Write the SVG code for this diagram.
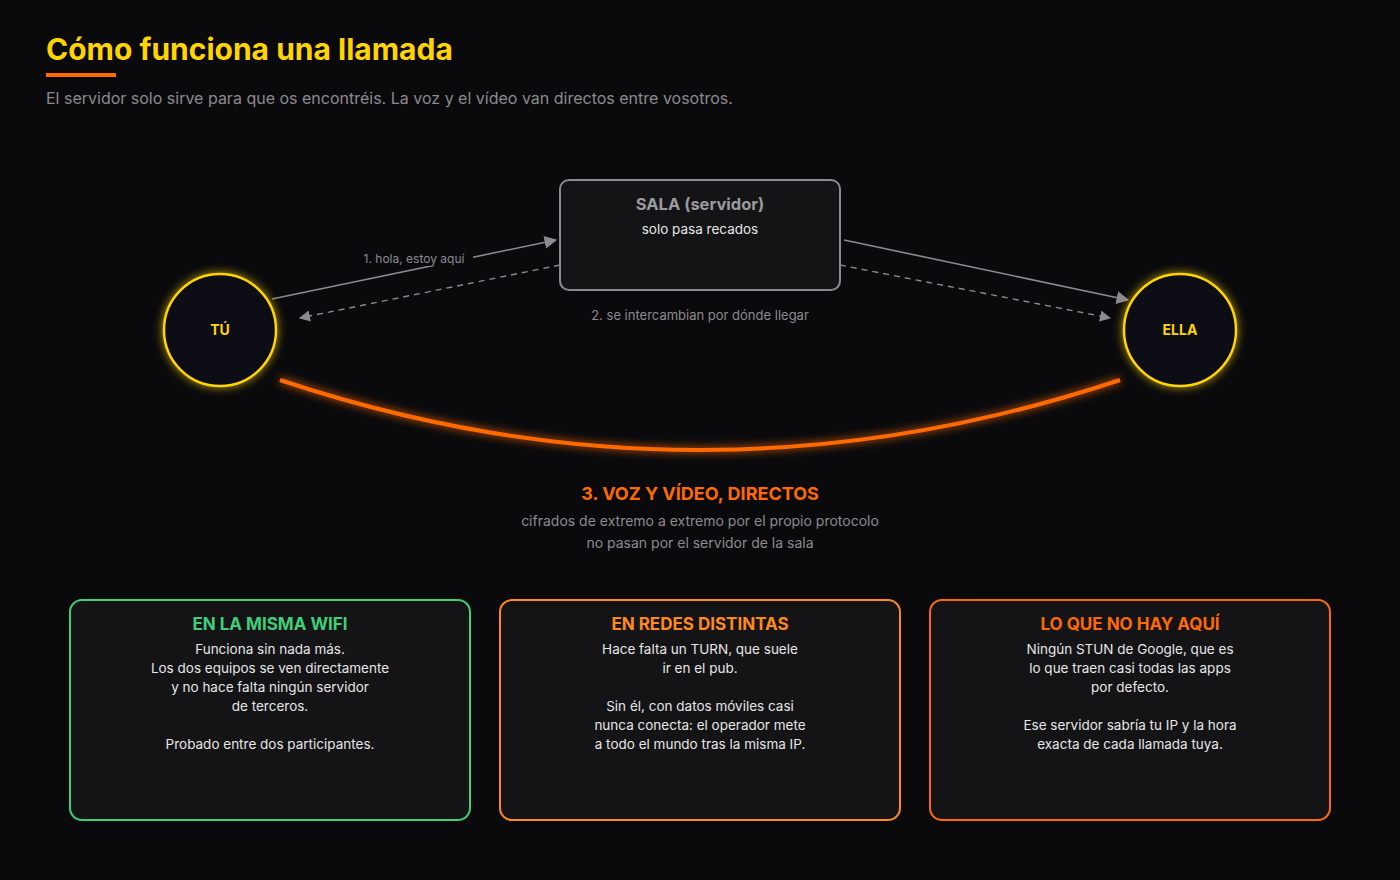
<svg xmlns="http://www.w3.org/2000/svg" width="1400" height="880" viewBox="0 0 1400 880">
<defs>
<style>
text{font-family:Inter,"Noto Sans",sans-serif}
.t{fill:#e6e6e6;font-size:13.5px;text-anchor:middle}
.g{fill:#8a8a90;font-size:12px;text-anchor:middle}
.g2{fill:#8a8a90;font-size:14.5px;text-anchor:middle}
.h{font-size:17px;font-weight:700;text-anchor:middle}
.card{fill:#141416;stroke-width:2}
</style>
<marker id="ar" viewBox="0 0 10 10" refX="9" refY="5" markerWidth="8" markerHeight="8" orient="auto"><path d="M0,0L10,5L0,10z" fill="#8a8a90"/></marker>
<filter id="glow" x="-50%" y="-50%" width="200%" height="200%"><feGaussianBlur stdDeviation="4" result="b"/><feMerge><feMergeNode in="b"/><feMergeNode in="SourceGraphic"/></feMerge></filter>
</defs>
<rect width="1400" height="880" fill="#0a0a0c"/>
<text x="46" y="60" font-size="30" font-weight="700" fill="#ffd400">Cómo funciona una llamada</text>
<rect x="46" y="73" width="70" height="4" fill="#ff6a00"/>
<text x="46" y="104" font-size="16" fill="#8a8a90">El servidor solo sirve para que os encontréis. La voz y el vídeo van directos entre vosotros.</text>
<g id="connectors" fill="none">
<path d="M280,380 Q700,520 1120,380" stroke="#ff6a00" stroke-width="4" filter="url(#glow)"/>
<line x1="272" y1="299" x2="556" y2="240" stroke="#8a8a90" stroke-width="1.6" marker-end="url(#ar)"/>
<line x1="560" y1="265" x2="300" y2="318" stroke="#8a8a90" stroke-width="1.4" stroke-dasharray="6 5" marker-end="url(#ar)"/>
<line x1="844" y1="240" x2="1128" y2="300" stroke="#8a8a90" stroke-width="1.6" marker-end="url(#ar)"/>
<line x1="840" y1="265" x2="1110" y2="318" stroke="#8a8a90" stroke-width="1.4" stroke-dasharray="6 5" marker-end="url(#ar)"/>
<rect x="355" y="248" width="118" height="18" fill="#0a0a0c"/>
<text x="414" y="263" class="g">1. hola, estoy aquí</text>
<text x="700" y="320" class="g2" style="font-size:13px">2. se intercambian por dónde llegar</text>
</g>
<g id="sala">
<rect x="560" y="180" width="280" height="110" rx="9" fill="#141416" stroke="#8a8a90" stroke-width="2"/>
<text x="700" y="210" font-size="16.5" font-weight="700" fill="#9a9aa0" text-anchor="middle">SALA (servidor)</text>
<text x="700" y="234" class="t">solo pasa recados</text>
</g>
<g id="tu">
<circle cx="220" cy="330" r="56" fill="#0c0c16" stroke="#ffd400" stroke-width="2.5" filter="url(#glow)"/>
<text x="220" y="335" font-size="14" font-weight="700" fill="#ffd400" text-anchor="middle">TÚ</text>
</g>
<g id="ella">
<circle cx="1180" cy="330" r="56" fill="#0c0c16" stroke="#ffd400" stroke-width="2.5" filter="url(#glow)"/>
<text x="1180" y="335" font-size="14" font-weight="700" fill="#ffd400" text-anchor="middle">ELLA</text>
</g>
<g id="directos">
<text x="700" y="500" class="h" fill="#ff6a00" style="font-size:18px">3. VOZ Y VÍDEO, DIRECTOS</text>
<text x="700" y="526" class="g2" style="font-size:14px">cifrados de extremo a extremo por el propio protocolo</text>
<text x="700" y="548" class="g2" style="font-size:14px">no pasan por el servidor de la sala</text>
</g>
<g id="card1">
<rect x="70" y="600" width="400" height="220" rx="12" class="card" stroke="#3ecf7a"/>
<text x="270" y="630" class="h" fill="#3ecf7a">EN LA MISMA WIFI</text>
<text class="t"><tspan x="270" y="654">Funciona sin nada más.</tspan><tspan x="270" y="673">Los dos equipos se ven directamente</tspan><tspan x="270" y="692">y no hace falta ningún servidor</tspan><tspan x="270" y="711">de terceros.</tspan><tspan x="270" y="749">Probado entre dos participantes.</tspan></text>
</g>
<g id="card2">
<rect x="500" y="600" width="400" height="220" rx="12" class="card" stroke="#ff8a1a"/>
<text x="700" y="630" class="h" fill="#ff8a1a">EN REDES DISTINTAS</text>
<text class="t"><tspan x="700" y="654">Hace falta un TURN, que suele</tspan><tspan x="700" y="673">ir en el pub.</tspan><tspan x="700" y="711">Sin él, con datos móviles casi</tspan><tspan x="700" y="730">nunca conecta: el operador mete</tspan><tspan x="700" y="749">a todo el mundo tras la misma IP.</tspan></text>
</g>
<g id="card3">
<rect x="930" y="600" width="400" height="220" rx="12" class="card" stroke="#ff6a00"/>
<text x="1130" y="630" class="h" fill="#ff6a00">LO QUE NO HAY AQUÍ</text>
<text class="t"><tspan x="1130" y="654">Ningún STUN de Google, que es</tspan><tspan x="1130" y="673">lo que traen casi todas las apps</tspan><tspan x="1130" y="692">por defecto.</tspan><tspan x="1130" y="730">Ese servidor sabría tu IP y la hora</tspan><tspan x="1130" y="749">exacta de cada llamada tuya.</tspan></text>
</g>
</svg>
